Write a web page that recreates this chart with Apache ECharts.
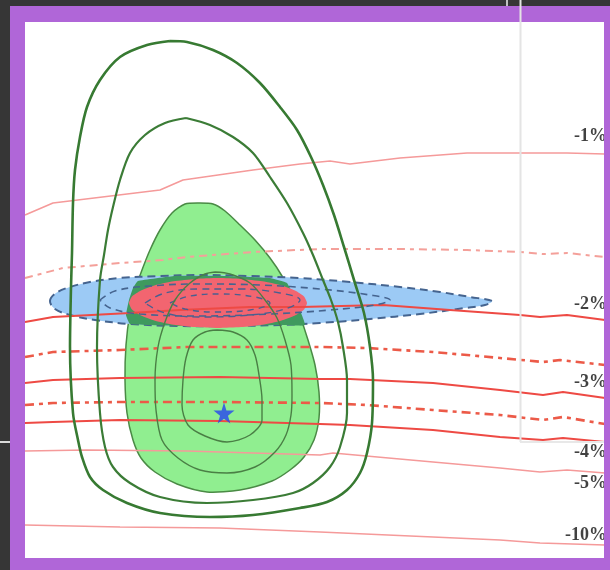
<!DOCTYPE html>
<html>
<head>
<meta charset="utf-8">
<script src="https://cdn.jsdelivr.net/npm/echarts@6/dist/echarts.min.js"></script>
<style>
  html, body { margin: 0; padding: 0; background: #363636; }
  #chart { width: 610px; height: 570px; }
</style>
</head>
<body>
<div id="chart"></div>
<script>
// contour outlines (x, y in plot units)
const outerContour = [[145,517],[162,516],[188,508],[212,495],[235,475],[255,451],[272,428],[286,401],[298,373],[309,343],[319,311],[329,278],[339,245],[345,211],[348,178],[347,135],[342,105],[335,85],[322,68],[302,56],[275,50],[228,43],[185,41],[135,45],[102,55],[78,68],[65,81],[57,101],[53,118],[48,145],[45,211],[46,271],[47,305],[48,355],[50,388],[55,421],[62,451],[75,478],[95,501],[122,513]];
const middleContour = [[161,440],[185,433],[208,421],[228,405],[245,381],[262,355],[278,325],[288,303],[298,278],[306,258],[313,236],[318,211],[322,178],[322,145],[315,111],[305,91],[288,75],[268,65],[228,58],[182,55],[135,61],[105,75],[88,91],[80,111],[75,145],[72,211],[75,278],[79,303],[83,328],[88,351],[95,378],[105,405],[120,423],[140,435]];
const innerContour1 = [[190,286],[205,284],[225,275],[240,258],[252,240],[260,218],[266,193],[267,163],[266,143],[261,123],[250,106],[230,91],[202,85],[175,88],[153,100],[137,118],[131,148],[130,178],[133,211],[140,236],[150,258],[165,275],[180,284]];
const innerContour2 = [[192,228],[208,226],[222,218],[230,203],[234,183],[237,158],[237,138],[225,123],[202,116],[180,122],[163,133],[157,153],[158,178],[161,200],[168,218],[180,226]];
const greenRegion = [[160,354],[175,355],[188,354],[200,347],[215,333],[230,318],[245,300],[257,282],[267,262],[275,242],[283,218],[290,193],[294,166],[294,140],[289,118],[279,101],[265,88],[247,77],[215,68],[182,66],[152,74],[130,86],[116,100],[108,118],[102,145],[100,178],[101,213],[105,246],[110,268],[117,288],[125,308],[135,328],[147,345]];

// ellipses
const blueRegion = [[25,257],[31,265],[45,271],[65,276],[95,280],[135,282],[175,283],[225,282],[275,280],[325,276],[375,271],[415,266],[445,261],[467,257],[460,253],[440,250],[395,244],[345,239],[295,235],[255,233],[205,232],[155,232],[105,234],[70,238],[45,243],[30,249]];
const overlapRegion = [[113,277],[150,282],[200,282],[245,280],[262,275],[272,255],[280,233],[255,233],[205,232],[155,232],[105,234],[101,243],[104,258],[108,270]];
const redRegion = [[282,255],[279,261.5],[270,267.5],[256,272.7],[237.5,276.7],[216,279.1],[193,280],[170,279.1],[148.5,276.7],[130,272.7],[116,267.5],[107,261.5],[104,255],[107,248.5],[116,242.5],[130,237.3],[148.5,233.3],[170,230.9],[193,230],[216,230.9],[237.5,233.3],[256,237.3],[270,242.5],[279,248.5]];
const blueContour2 = [[75,258],[90,267],[125,272],[175,274],[235,273],[295,269],[345,263],[365,258],[350,253],[305,248],[245,244],[175,242],[115,244],[85,250]];
const blueContour3 = [[120,255],[140,265],[175,269],[215,269],[255,265],[275,258],[260,249],[225,243],[175,241],[140,245]];
const blueContour4 = [[145,255],[165,262],[195,264],[230,261],[245,255],[225,248],[190,246],[160,249]];

// loss lines
const loss1 = [[0,343],[28,355],[135,368],[158,378],[228,388],[275,394],[305,397],[325,394],[375,400],[442,405],[495,405],[542,405],[580,404]];
const lossB = [[0,280],[38,290],[95,295],[138,298],[162,301],[228,306],[295,309],[375,309],[442,308],[495,306],[518,304],[542,305],[580,301]];
const loss2 = [[0,236],[28,241],[105,245],[155,248],[225,251],[275,251],[358,253],[425,248],[495,243],[515,241],[542,243],[580,238]];
const lossD = [[0,201],[28,206],[95,208],[162,211],[295,211],[342,210],[408,206],[475,200],[518,196],[535,198],[580,193]];
const loss3 = [[0,175],[28,178],[95,180],[195,181],[295,179],[325,179],[408,175],[475,168],[518,163],[538,166],[580,160]];
const lossF = [[0,153],[28,155],[95,156],[195,156],[295,155],[342,153],[408,148],[475,143],[518,138],[538,141],[580,134]];
const lossG = [[0,135],[28,136],[95,138],[195,137],[295,134],[325,133],[408,128],[475,121],[518,118],[538,120],[580,116]];
const loss4 = [[0,107],[62,108],[162,107],[295,103],[308,105],[408,96],[475,90],[515,86],[542,88],[580,85]];
const loss10 = [[0,33],[95,31],[195,30],[295,26],[408,21],[475,18],[515,15],[580,13]];

const bestPoint = [[199,145]];
const labelTexts = ['-1%', '-2%', '-3%', '-4%', '-5%', '-10%'];
const labelY = [422, 254, 176, 106, 75, 23];
const labelX = 582;

const closed = pts => pts.concat([pts[0]]);

function area(name, pts, style, z, smooth) {
  return {
    type: 'custom', name: name, z: z, silent: true,
    coordinateSystem: 'cartesian2d',
    data: [[0, 0]],
    renderItem: function (params, api) {
      return {
        type: 'polygon',
        shape: { points: pts.map(p => api.coord(p)), smooth: smooth },
        style: style
      };
    }
  };
}

function line(name, pts, color, width, type, z, smooth) {
  return {
    type: 'line', name: name, z: z, data: pts, symbol: 'none', silent: true,
    smooth: smooth || false,
    lineStyle: { color: color, width: width, type: type || 'solid' }
  };
}

const chart = echarts.init(document.getElementById('chart'));
chart.setOption({
  backgroundColor: '#363636',
  animation: false,
  grid: { left: 25, right: 6, top: 22, bottom: 12, show: true, backgroundColor: '#fff', borderWidth: 0 },
  xAxis: { type: 'value', min: 0, max: 579, show: false },
  yAxis: { type: 'value', min: 0, max: 536, show: false },
  graphic: [
    { type: 'rect', z: 100, shape: { x: 10, y: 6, width: 15, height: 564 }, style: { fill: '#b066d8' } },
    { type: 'rect', z: 100, shape: { x: 10, y: 6, width: 600, height: 16 }, style: { fill: '#b066d8' } },
    { type: 'rect', z: 100, shape: { x: 604, y: 6, width: 6, height: 564 }, style: { fill: '#b066d8' } },
    { type: 'rect', z: 100, shape: { x: 10, y: 558, width: 600, height: 12 }, style: { fill: '#b066d8' } },
    { type: 'line', z: 101, shape: { x1: 520.5, y1: 0, x2: 520.5, y2: 442 }, style: { stroke: '#e4e4e4', lineWidth: 2 } },
    { type: 'line', z: 101, shape: { x1: 520, y1: 442, x2: 604, y2: 442 }, style: { stroke: '#e8e8e8', lineWidth: 2 } },
    { type: 'line', z: 101, shape: { x1: 0, y1: 442, x2: 10, y2: 442 }, style: { stroke: '#dcdcdc', lineWidth: 2 } },
    { type: 'line', z: 101, shape: { x1: 507, y1: 0, x2: 507, y2: 6 }, style: { stroke: '#f0f0f0', lineWidth: 1.5 } }
  ],
  series: [
    area('green', greenRegion, { fill: '#90ee90', stroke: '#4a8a45', lineWidth: 1.5 }, 2, 0.25),
    area('blue', blueRegion, { fill: '#9ccaf5', stroke: '#45648f', lineWidth: 2, lineDash: [8, 5] }, 3, 0.35),
    area('overlap', overlapRegion, { fill: '#3f9a5e' }, 4, 0.1),
    area('red', redRegion, { fill: '#f26570' }, 5, 0.2),

    line('-1%', loss1, '#f59a9a', 1.6, 'solid', 6),
    line('b', lossB, '#f4a09a', 2, [8, 5, 4, 5], 6),
    line('-2%', loss2, '#ee4a44', 2.2, 'solid', 6),
    line('d', lossD, '#ec5a48', 2.6, [9, 5, 4, 5], 6),
    line('-3%', loss3, '#ee4a44', 2.2, 'solid', 6),
    line('f', lossF, '#ec5a48', 2.6, [9, 5, 4, 5], 6),
    line('g', lossG, '#ee4a44', 2.2, 'solid', 6),
    line('-4%', loss4, '#f59a9a', 1.6, 'solid', 6),
    line('-10%', loss10, '#f59a9a', 1.6, 'solid', 6),

    line('blue2', closed(blueContour2), '#45648f', 1.6, [7, 5], 7, 0.4),
    line('blue3', closed(blueContour3), '#4a5f90', 1.4, [7, 5], 7, 0.4),
    line('blue4', closed(blueContour4), '#4a5f90', 1.4, [6, 5], 7, 0.4),

    line('outer', closed(outerContour), '#377a32', 2.6, 'solid', 8, 0.3),
    line('middle', closed(middleContour), '#3b7c36', 2.2, 'solid', 8, 0.3),
    line('inner1', closed(innerContour1), '#4a7f45', 1.4, 'solid', 8, 0.3),
    line('inner2', closed(innerContour2), '#4a7f45', 1.4, 'solid', 8, 0.3),

    {
      type: 'scatter', name: 'best', z: 9, silent: true, data: bestPoint, symbolSize: 21,
      symbol: 'path://M50,0 L61,35 L98,35 L68,57 L79,91 L50,70 L21,91 L32,57 L2,35 L39,35 Z',
      itemStyle: { color: '#2444f0' }
    },
    {
      type: 'scatter', name: 'labels', z: 9, silent: true, clip: false, symbolSize: 0,
      data: labelTexts.map((t, i) => [labelX, labelY[i], t]),
      label: {
        show: true, position: [0, 0], align: 'right', verticalAlign: 'middle',
        formatter: p => p.data[2],
        fontFamily: 'Liberation Serif', fontWeight: 'bold', fontSize: 18, color: '#111'
      }
    }
  ]
});
</script>
</body>
</html>
